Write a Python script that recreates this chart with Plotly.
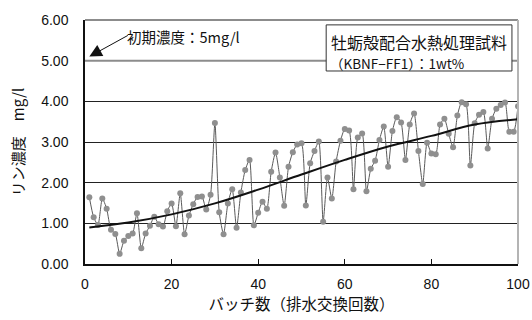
import plotly.graph_objects as go

# Phosphorus concentration per batch (mg/l)
batches = list(range(1, 101))
phosphorus = [
    1.64, 1.15, 0.96, 1.61, 1.36, 0.84, 0.74, 0.25, 0.57, 0.69,
    0.75, 1.25, 0.39, 0.75, 0.94, 1.16, 0.98, 0.92, 1.30, 1.49,
    0.93, 1.74, 0.73, 1.19, 1.47, 1.65, 1.66, 1.34, 1.70, 3.47,
    1.27, 0.73, 1.49, 1.84, 0.89, 1.76, 2.31, 2.56, 0.95, 1.26,
    1.53, 1.36, 2.27, 2.74, 2.13, 1.43, 2.39, 2.75, 2.94, 2.97,
    1.44, 2.48, 2.78, 3.01, 1.04, 2.13, 1.61, 2.52, 3.03, 3.32,
    3.28, 1.84, 3.11, 3.21, 1.79, 2.34, 2.54, 3.05, 3.38, 2.39,
    3.27, 3.61, 3.48, 2.56, 3.43, 3.70, 2.78, 1.97, 2.98, 2.72,
    2.70, 3.43, 3.57, 3.20, 2.87, 3.65, 3.98, 3.93, 2.42, 3.46,
    3.67, 3.74, 2.84, 3.57, 3.82, 3.91, 3.97, 3.25, 3.25, 3.88,
]

# Trend curve
trend_x = [1, 10, 20, 30, 40, 50, 60, 70, 80, 90, 100]
trend_y = [0.90, 1.02, 1.22, 1.49, 1.83, 2.20, 2.56, 2.89, 3.15, 3.43, 3.56]

# Initial concentration level
initial_level = 5.0

y_ticks = [0, 1, 2, 3, 4, 5, 6]
y_tick_text = ["0.00", "1.00", "2.00", "3.00", "4.00", "5.00", "6.00"]
x_ticks = [0, 20, 40, 60, 80, 100]

num_font = "Liberation Sans, Arial, Noto Sans CJK JP"
jp_font = "Noto Sans CJK JP, Liberation Sans"

fig = go.Figure()

fig.add_trace(go.Scatter(
    x=[0, 100], y=[initial_level, initial_level], mode="lines",
    line=dict(color="#8c8c8c", width=2), hoverinfo="skip", showlegend=False,
))

fig.add_trace(go.Scatter(
    x=batches, y=phosphorus, mode="lines+markers",
    line=dict(color="#5a5a5a", width=1, shape="spline", smoothing=0.6),
    marker=dict(color="#8f8f8f", size=6),
    showlegend=False,
))

fig.add_trace(go.Scatter(
    x=trend_x, y=trend_y, mode="lines",
    line=dict(color="#111111", width=2, shape="spline"),
    showlegend=False,
))

fig.update_layout(
    width=532, height=320,
    margin=dict(l=85, r=14, t=20, b=56, autoexpand=False),
    paper_bgcolor="white", plot_bgcolor="white",
    font=dict(family=num_font, color="#111111", size=12),
    xaxis=dict(
        range=[0, 100], tickvals=x_ticks, showgrid=False, zeroline=False,
        automargin=False,
        showline=True, linecolor="#111111", linewidth=1.5,
        ticks="inside", ticklen=5, tickcolor="#111111",
        ticklabelstandoff=6,
        tickfont=dict(size=14, family=num_font),
        title=dict(text="バッチ数（排水交換回数）", font=dict(size=15.5, family=jp_font), standoff=8),
    ),
    yaxis=dict(
        range=[0, 6], tickvals=y_ticks, ticktext=y_tick_text,
        automargin=False,
        showgrid=True, gridcolor="#222222", gridwidth=1, zeroline=False,
        showline=True, linecolor="#111111", linewidth=1.5,
        ticks="", ticklabelstandoff=12,
        tickfont=dict(size=14, family=num_font),
        title=dict(text="リン濃度　mg/l", font=dict(size=15, family=jp_font), standoff=13),
    ),
    shapes=[
        dict(type="line", xref="paper", yref="paper", x0=0, x1=1, y0=1, y1=1,
             line=dict(color="#8c8c8c", width=2)),
        dict(type="line", xref="paper", yref="paper", x0=1, x1=1, y0=0, y1=1,
             line=dict(color="#b4b4b4", width=2)),
        # sample label frame
        dict(type="rect", xref="paper", yref="paper", x0=0.557, x1=0.986, y0=0.791, y1=0.980,
             layer="above", fillcolor="white", line=dict(color="#333333", width=1)),
    ],
    annotations=[
        dict(x=1.0, y=5.1, xref="x", yref="y", ax=40, ay=-22, axref="pixel", ayref="pixel",
             text="", showarrow=True, arrowhead=2, arrowsize=2.5, arrowwidth=1,
             arrowcolor="#111111"),
        dict(x=9.3, y=5.6, xref="x", yref="y", xanchor="left", yanchor="middle",
             text="初期濃度：5mg/l", showarrow=False,
             font=dict(size=14.5, family=jp_font, color="#111111")),
        dict(x=0.563, y=0.910, xref="paper", yref="paper", xanchor="left", yanchor="middle",
             text="牡蛎殻配合水熱処理試料", showarrow=False,
             font=dict(size=16, family=jp_font, color="#111111")),
        dict(x=0.561, y=0.824, xref="paper", yref="paper", xanchor="left", yanchor="middle",
             text="（KBNF−FF1）：1wt%", showarrow=False,
             font=dict(size=13.5, family=jp_font, color="#111111")),
    ],
)

fig.write_html("out.html")
